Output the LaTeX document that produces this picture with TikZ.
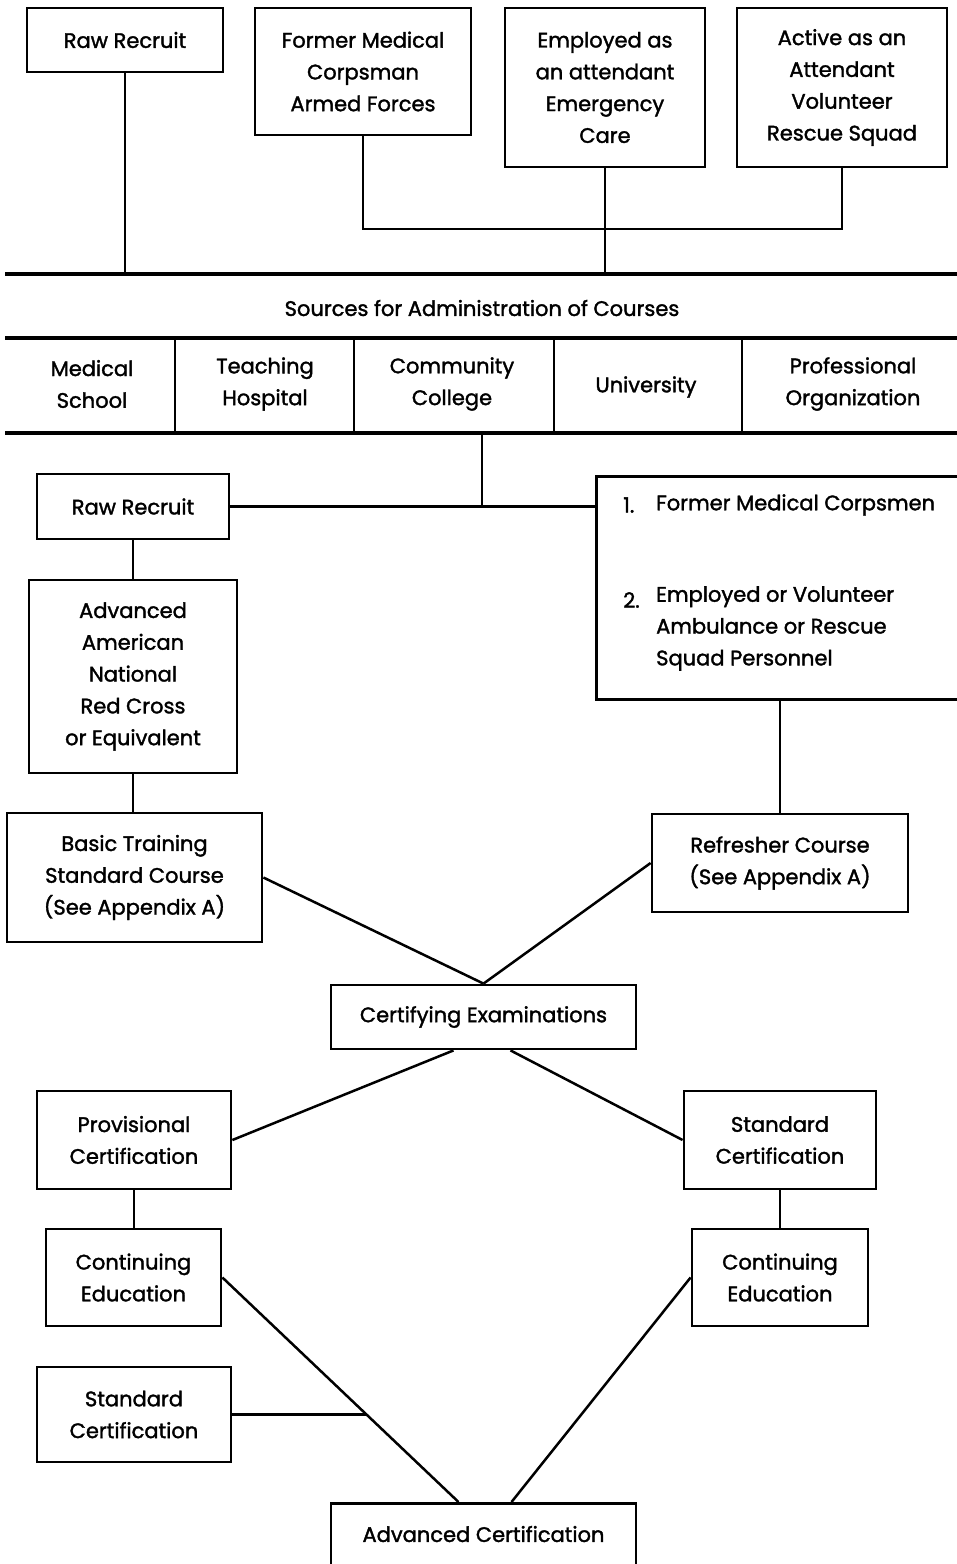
\documentclass[tikz,border=0pt]{standalone}
\usepackage{fontspec}
\setmainfont{Poppins}[FakeBold=1.6]
\usetikzlibrary{positioning,calc}
\tikzset{
  box/.style={draw, line width=2.8pt, inner sep=0pt, align=center, font=\txtfont},
  lbl/.style={inner sep=0pt, align=center, font=\txtfont},
  conn/.style={line width=2.5pt},
  bus/.style={line width=3.6pt}
}
\newcommand{\txtfont}{\fontsize{21}{31.8}\selectfont}
\begin{document}
\begin{tikzpicture}[x=1pt,y=-1pt]
\clip (0,0) rectangle (957,1564);
\fill[white] (0,0) rectangle (957,1564);
% top row
\node[box, minimum width=196pt, minimum height=64pt] (rr1) at (125,40) {Raw Recruit};
\node[box, minimum width=216pt, minimum height=127pt] (fmc1) at (363,71.5) {Former Medical\\Corpsman\\Armed Forces};
\node[box, minimum width=200pt, minimum height=159pt] (emp1) at (605,87.5) {Employed as\\an attendant\\Emergency\\Care};
\node[box, minimum width=210pt, minimum height=159pt] (act1) at (842,87.5) {Active as an\\Attendant\\Volunteer\\Rescue Squad};
\coordinate (busA) at (0,274);
\coordinate (hline) at (0,229);
\draw[conn] (rr1.south) -- (rr1.south |- busA);
\draw[conn] (emp1.south) -- (emp1.south |- busA);
\draw[conn] (fmc1.south) -- (fmc1.south |- hline) -- (act1.south |- hline) -- (act1.south);
\draw[bus] (5,274) -- (960,274);
% sources table
\node[lbl] (src) at (482,308) {Sources for Administration of Courses};
\draw[bus] (5,338) -- (960,338);
\draw[bus] (5,433) -- (960,433);
\foreach \xx in {175,354,554,742} \draw[conn] (\xx,338) -- (\xx,433);
\node[lbl] (c1) at (92,384) {Medical\\School};
\node[lbl] (c2) at (265,384) {Teaching\\Hospital};
\node[lbl] (c3) at (452,384) {Community\\College};
\node[lbl] (c4) at (646,387) {University};
\node[lbl] (c5) at (853,384) {Professional\\Organization};
\coordinate (srcB) at (482,433);
% second tier
\node[box, minimum width=192pt, minimum height=65pt] (rr2) at (133,506.5) {Raw Recruit};
\node[box, anchor=north west, minimum width=400pt, minimum height=223pt] (fmc2) at (595,475) {};
\node[lbl, anchor=west] (n1) at (623,505) {1.};
\node[lbl, anchor=west] (t1) at (656,505) {Former Medical Corpsmen};
\node[lbl, anchor=west] (n2) at (623,600) {2.};
\node[lbl, anchor=north west, align=left] (t2) at (656,586) {Employed or Volunteer\\Ambulance or Rescue\\Squad Personnel};
\draw[conn] (srcB) -- (srcB |- rr2.east);
\draw[conn] (rr2.east) -- (fmc2.west |- rr2.east);
\node[box, minimum width=208pt, minimum height=193pt] (adv) at (133,676.5) {Advanced\\American\\National\\Red Cross\\or Equivalent};
\draw[conn] (rr2.south) -- (rr2.south |- adv.north);
\node[box, minimum width=255pt, minimum height=129pt] (basic) at (134.5,877.5) {Basic Training\\Standard Course\\(See Appendix A)};
\draw[conn] (adv.south) -- (adv.south |- basic.north);
\node[box, minimum width=256pt, minimum height=98pt] (ref) at (780,863) {Refresher Course\\(See Appendix A)};
\draw[conn] (ref.north) -- (ref.north |- fmc2.south);
% certification
\node[box, minimum width=305pt, minimum height=64pt] (cert) at (483.5,1017) {Certifying Examinations};
\draw[conn] (basic.east) -- (cert.north);
\draw[conn] (ref.west) -- (cert.north);
\node[box, minimum width=194pt, minimum height=98pt] (prov) at (134,1140) {Provisional\\Certification};
\node[box, minimum width=192pt, minimum height=98pt] (stdR) at (780,1140) {Standard\\Certification};
\draw[conn] ([xshift=-30pt]cert.south) -- (prov.east);
\draw[conn] ([xshift=27pt]cert.south) -- (stdR.west);
\node[box, minimum width=175pt, minimum height=97pt] (ceL) at (133.5,1277.5) {Continuing\\Education};
\node[box, minimum width=176pt, minimum height=97pt] (ceR) at (780,1277.5) {Continuing\\Education};
\draw[conn] (prov.south) -- (prov.south |- ceL.north);
\draw[conn] (stdR.south) -- (stdR.south |- ceR.north);
\node[box, minimum width=194pt, minimum height=95pt] (sbl) at (134,1414.5) {Standard\\Certification};
\node[box, anchor=north, minimum width=305pt, minimum height=70pt] (advc) at (483.5,1502) {};
\node[lbl] (advt) at (483.5,1534) {Advanced Certification};
\draw[conn] (ceL.east) -- ([xshift=-25pt]advc.north) coordinate[pos=0.61] (j);
\draw[conn] (ceR.west) -- ([xshift=28pt]advc.north);
\draw[conn] (sbl.east) -- (sbl.east -| j);
\end{tikzpicture}
\end{document}
